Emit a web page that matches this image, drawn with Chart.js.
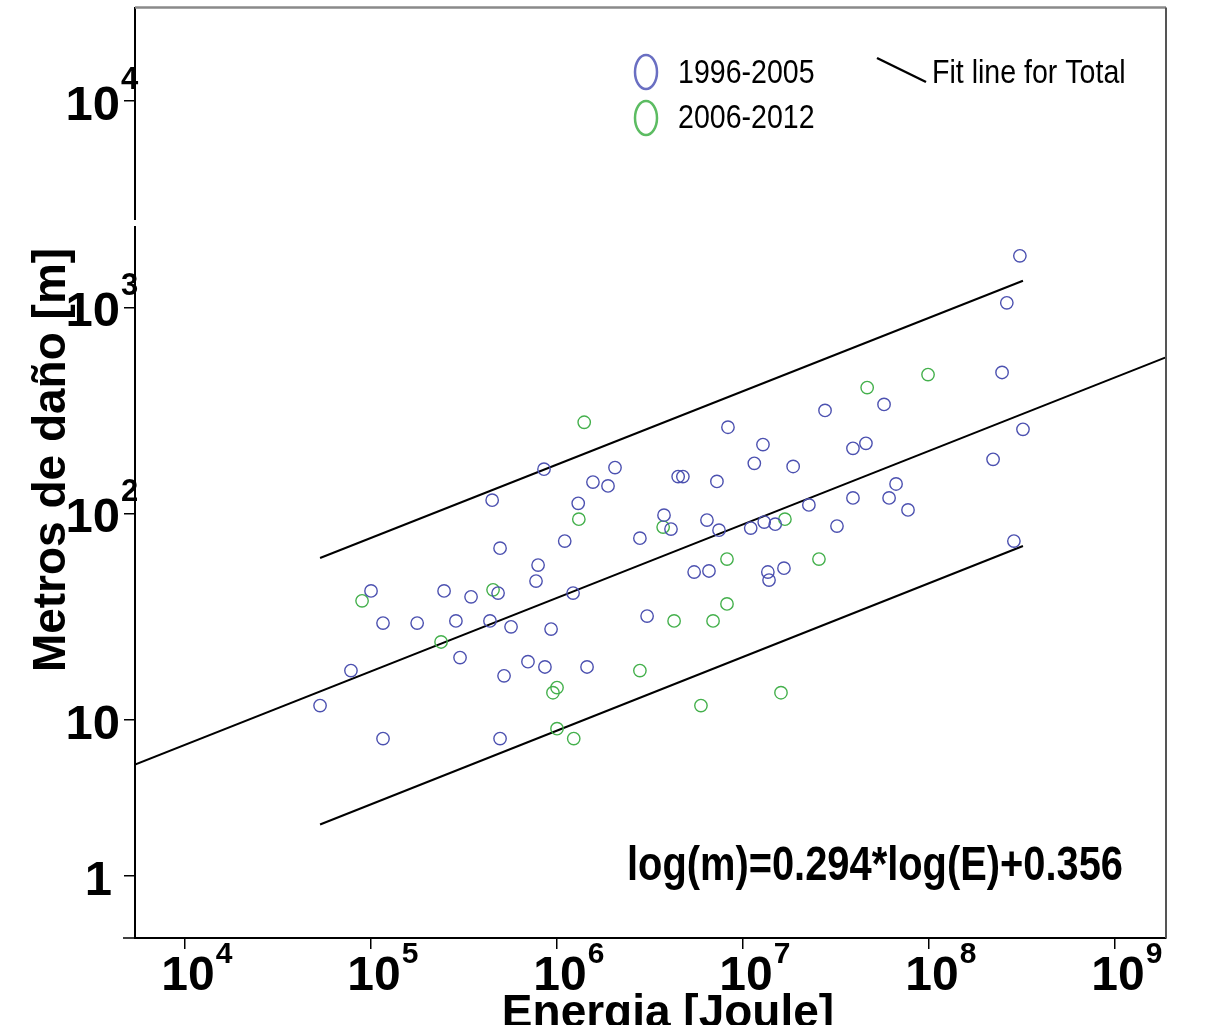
<!DOCTYPE html>
<html>
<head>
<meta charset="utf-8">
<script src="https://cdn.jsdelivr.net/npm/chart.js@4.4.1/dist/chart.umd.min.js"></script>
<style>
  html, body { margin: 0; padding: 0; background: #fff; }
</style>
</head>
<body>
<canvas id="chart" width="1213" height="1025"></canvas>
<script>
// energy [J] and damage length [m]
const blueE = [8.51e5, 2.05e6, 1.56e6, 1.88e6, 4.48e5, 1.30e6, 1.10e6, 2.79e6, 4.94e5, 7.91e5,
    7.71e5, 1.00e5, 2.47e5, 3.45e5, 4.82e5, 1.22e6, 1.16e5, 1.77e5, 2.86e5, 4.36e5,
    5.66e5, 9.29e5, 3.05e6, 7.80e4, 3.01e5, 5.19e5, 6.98e5, 8.61e5, 1.45e6, 5.32e4,
    1.16e5, 4.94e5, 2.47e8, 5.73e7, 2.76e7, 8.30e6, 3.20e8, 1.28e7, 3.90e7, 4.58e7,
    1.15e7, 1.86e7, 2.21e8, 4.48e6, 4.75e6, 7.24e6, 6.65e7, 3.90e7, 6.10e7, 2.26e7,
    7.71e7, 3.76e6, 4.10e6, 6.40e6, 7.43e6, 1.10e7, 1.30e7, 1.49e7, 3.20e7, 2.86e8,
    5.46e6, 6.56e6, 1.36e7, 1.38e7, 1.66e7, 3.08e8, 2.62e8];
const blueM = [164, 167, 142, 136, 116, 112, 73.5, 75.9, 67.9, 56.2,
    47.0, 42.1, 42.1, 39.4, 41.1, 41.1, 29.4, 29.4, 30.1, 30.1,
    28.2, 27.5, 31.8, 17.3, 20.0, 16.3, 19.1, 18.0, 18.0, 11.7,
    8.09, 8.09, 483, 338, 316, 262, 256, 216, 207, 219,
    175, 169, 183, 151, 151, 143, 139, 119, 119, 110,
    104, 98.1, 84.0, 92.9, 83.0, 84.9, 90.8, 88.7, 86.9, 73.5,
    52.0, 52.6, 52.0, 47.5, 54.3, 1778, 1052];
const greenE = [1.40e6, 1.31e6, 8.95e4, 4.53e5, 2.38e5, 2.79e6, 1.00e6, 9.51e5, 1.00e6, 1.23e6,
    9.88e7, 4.65e7, 3.72e6, 1.68e7, 8.20e6, 2.56e7, 4.26e6, 6.90e6, 8.20e6, 1.60e7, 5.94e6];
const greenM = [277, 93.8, 37.7, 42.6, 23.8, 17.3, 14.3, 13.5, 9.04, 8.09,
    472, 408, 85.9, 93.8, 60.1, 60.1, 30.1, 30.1, 36.4, 13.5, 11.7];

// fit line and the two band lines
const fitE = [5383, 1.86e9];
const fitM = [6.05, 570];
const bandE = [5.32e4, 3.20e8];
const upperM = [60.8, 1346];
const lowerM = [3.10, 69.5];

const xTickValues = [1e4, 1e5, 1e6, 1e7, 1e8, 1e9];
const xTickLabels = ['10^4', '10^5', '10^6', '10^7', '10^8', '10^9'];
const yTickValues = [1.74, 10, 100, 1000, 10000];
const yTickLabels = ['1', '10', '10^2', '10^3', '10^4'];

const FONT = '"Liberation Sans", Arial, sans-serif';
const BLUE = '#4c51b0';
const GREEN = '#44b04c';

const toPts = (xs, ys) => xs.map((x, i) => ({x: x, y: ys[i]}));

const lineSet = (xs, ys) => ({
    type: 'line',
    data: toPts(xs, ys),
    borderColor: '#000',
    borderWidth: 2,
    pointRadius: 0,
    fill: false
});

const decor = {
    id: 'decor',
    afterDraw(chart) {
        const ctx = chart.ctx;
        const a = chart.chartArea;
        const xs = chart.scales.x;
        const ys = chart.scales.y;
        ctx.save();

        // frame top / right
        ctx.strokeStyle = '#8a8a8a';
        ctx.lineWidth = 2.5;
        ctx.beginPath(); ctx.moveTo(a.left, a.top); ctx.lineTo(a.right, a.top); ctx.stroke();
        ctx.strokeStyle = '#555';
        ctx.lineWidth = 2;
        ctx.beginPath(); ctx.moveTo(a.right, a.top); ctx.lineTo(a.right, a.bottom); ctx.stroke();
        // little break in the y axis
        ctx.fillStyle = '#fff';
        ctx.fillRect(a.left - 2, 220, 5, 6);
        // stub left of the corner
        ctx.strokeStyle = '#000';
        ctx.lineWidth = 1.5;
        ctx.beginPath(); ctx.moveTo(a.left - 12, a.bottom); ctx.lineTo(a.left, a.bottom); ctx.stroke();

        ctx.fillStyle = '#000';
        ctx.textBaseline = 'alphabetic';

        // y tick labels
        yTickValues.forEach((v, i) => {
            const py = ys.getPixelForValue(v);
            const parts = yTickLabels[i].split('^');
            ctx.font = 'bold 49px ' + FONT;
            ctx.textAlign = 'right';
            const rx = parts[0] === '1' ? 112 : 120;
            ctx.fillText(parts[0], rx, py + 19);
            if (parts[1]) {
                ctx.font = 'bold 31px ' + FONT;
                ctx.textAlign = 'left';
                ctx.fillText(parts[1], rx + 1, py - 12);
            }
        });

        // x tick labels
        xTickValues.forEach((v, i) => {
            const px = xs.getPixelForValue(v) + 3;
            const parts = xTickLabels[i].split('^');
            ctx.font = 'bold 48px ' + FONT;
            ctx.textAlign = 'center';
            const w = ctx.measureText(parts[0]).width;
            ctx.fillText(parts[0], px, 990);
            ctx.font = 'bold 30px ' + FONT;
            ctx.textAlign = 'left';
            ctx.fillText(parts[1], px + w / 2 + 1, 963);
        });

        // axis titles
        ctx.font = 'bold 46px ' + FONT;
        ctx.textAlign = 'center';
        ctx.fillText('Energia [Joule]', 668, 1027);
        ctx.save();
        ctx.translate(52, 460);
        ctx.rotate(-Math.PI / 2);
        ctx.textBaseline = 'middle';
        ctx.fillText('Metros de daño [m]', 0, 0);
        ctx.restore();

        // equation
        ctx.save();
        ctx.translate(627, 880);
        ctx.scale(0.83, 1);
        ctx.font = 'bold 48px ' + FONT;
        ctx.textAlign = 'left';
        ctx.fillText('log(m)=0.294*log(E)+0.356', 0, 0);
        ctx.restore();

        // legend
        const legendText = (txt, x, y) => {
            ctx.save();
            ctx.translate(x, y);
            ctx.scale(0.84, 1);
            ctx.font = '34px ' + FONT;
            ctx.textAlign = 'left';
            ctx.textBaseline = 'middle';
            ctx.fillText(txt, 0, 0);
            ctx.restore();
        };
        ctx.lineWidth = 2.5;
        ctx.strokeStyle = '#6a6fc2';
        ctx.beginPath(); ctx.ellipse(646, 72, 11, 17, 0, 0, Math.PI * 2); ctx.stroke();
        ctx.strokeStyle = '#5cbc62';
        ctx.beginPath(); ctx.ellipse(646, 118, 11, 17, 0, 0, Math.PI * 2); ctx.stroke();
        legendText('1996-2005', 678, 74);
        legendText('2006-2012', 678, 119);
        ctx.strokeStyle = '#000';
        ctx.lineWidth = 2.5;
        ctx.beginPath(); ctx.moveTo(877, 58); ctx.lineTo(926, 82); ctx.stroke();
        legendText('Fit line for Total', 932, 74);

        ctx.restore();
    }
};

new Chart(document.getElementById('chart'), {
    type: 'scatter',
    data: {
        datasets: [
            {
                label: '1996-2005',
                data: toPts(blueE, blueM),
                borderColor: BLUE,
                backgroundColor: 'rgba(0,0,0,0)',
                borderWidth: 1.4,
                pointRadius: 6.2
            },
            {
                label: '2006-2012',
                data: toPts(greenE, greenM),
                borderColor: GREEN,
                backgroundColor: 'rgba(0,0,0,0)',
                borderWidth: 1.4,
                pointRadius: 6.2
            },
            lineSet(fitE, fitM),
            lineSet(bandE, upperM),
            lineSet(bandE, lowerM)
        ]
    },
    options: {
        responsive: false,
        animation: false,
        devicePixelRatio: 1,
        events: [],
        layout: {
            padding: {left: 124, right: 47, top: 5, bottom: 76}
        },
        plugins: {
            legend: {display: false},
            tooltip: {enabled: false}
        },
        scales: {
            x: {
                type: 'logarithmic',
                min: 5383,
                max: 1.88e9,
                afterBuildTicks: (scale) => {
                    scale.ticks = xTickValues.map(v => ({value: v}));
                },
                ticks: {display: false},
                grid: {drawOnChartArea: false, drawTicks: true, tickLength: 11, color: '#000', lineWidth: 1.5},
                border: {display: true, color: '#000', width: 2}
            },
            y: {
                type: 'logarithmic',
                min: 0.872,
                max: 28450,
                afterBuildTicks: (scale) => {
                    scale.ticks = yTickValues.map(v => ({value: v}));
                },
                ticks: {display: false},
                grid: {drawOnChartArea: false, drawTicks: true, tickLength: 11, color: '#000', lineWidth: 1.5},
                border: {display: true, color: '#000', width: 2}
            }
        }
    },
    plugins: [decor]
});
</script>
</body>
</html>
